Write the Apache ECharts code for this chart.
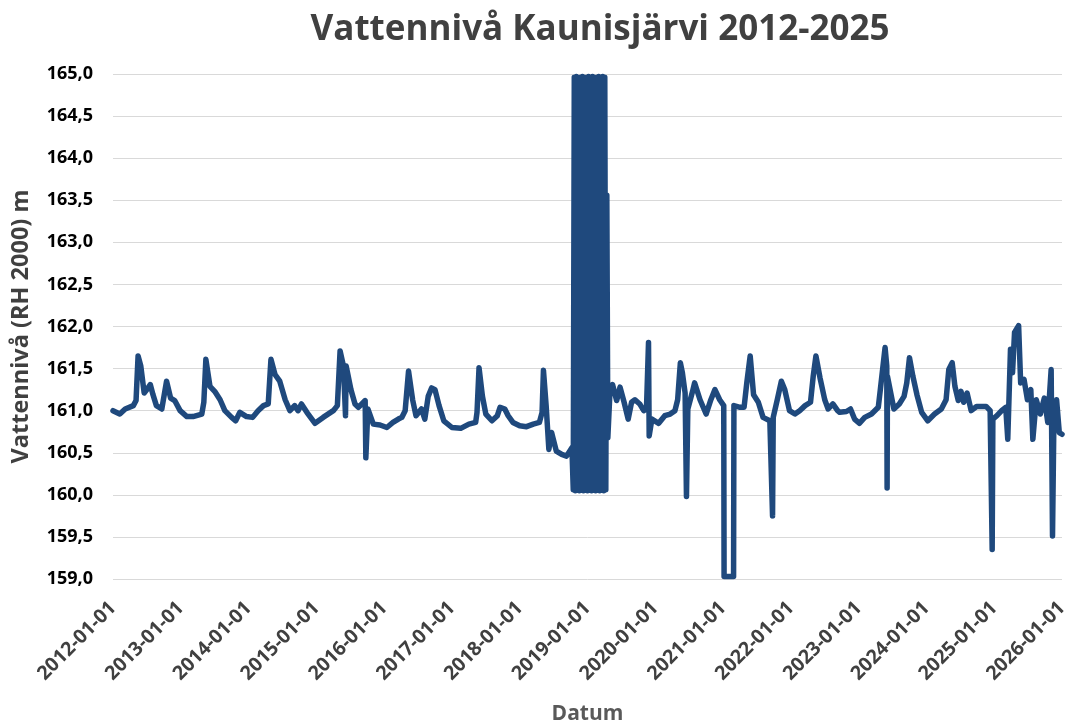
<!DOCTYPE html>
<html>
<head>
<meta charset="utf-8">
<title>Vattennivå Kaunisjärvi 2012-2025</title>
<script src="https://cdn.jsdelivr.net/npm/echarts@6/dist/echarts.min.js"></script>
<style>
  html, body { margin: 0; padding: 0; background: #fff; }
  #chart { width: 1069px; height: 721px; }
</style>
</head>
<body>
<div id="chart"></div>
<script>
// tid i decimala år, nivå i m (RH 2000)
const years = [
  2012.00, 2012.10, 2012.18, 2012.30, 2012.34, 2012.37, 2012.41, 2012.46, 2012.50, 2012.55,
  2012.59, 2012.64, 2012.72, 2012.79, 2012.85, 2012.91, 2012.99, 2013.09, 2013.18, 2013.31,
  2013.34, 2013.37, 2013.43, 2013.50, 2013.58, 2013.65, 2013.75, 2013.81, 2013.87, 2013.97,
  2014.06, 2014.14, 2014.22, 2014.29, 2014.33, 2014.39, 2014.46, 2014.54, 2014.61, 2014.68,
  2014.73, 2014.78, 2014.86, 2014.98, 2015.10, 2015.25, 2015.31, 2015.35, 2015.40, 2015.43,
  2015.44, 2015.51, 2015.57, 2015.62, 2015.67, 2015.72, 2015.73, 2015.76, 2015.84, 2015.94,
  2016.04, 2016.13, 2016.21, 2016.26, 2016.31, 2016.36, 2016.42, 2016.47, 2016.55, 2016.60,
  2016.65, 2016.70, 2016.75, 2016.81, 2016.88, 2017.00, 2017.13, 2017.25, 2017.35, 2017.37,
  2017.40, 2017.45, 2017.50, 2017.59, 2017.67, 2017.71, 2017.78, 2017.83, 2017.90, 2018.00,
  2018.10, 2018.20, 2018.29, 2018.33, 2018.35, 2018.39, 2018.43, 2018.47, 2018.54, 2018.62,
  2018.69, 2018.77,
  2018.790, 2018.805, 2018.820, 2018.835, 2018.850, 2018.865, 2018.880, 2018.895, 2018.910, 2018.925,
  2018.940, 2018.955, 2018.970, 2018.985, 2019.000, 2019.015, 2019.030, 2019.045, 2019.060, 2019.075,
  2019.090, 2019.105, 2019.120, 2019.135, 2019.150, 2019.165, 2019.180, 2019.195, 2019.210, 2019.225,
  2019.240, 2019.255, 2019.270, 2019.285, 2019.300,
  2019.33, 2019.37, 2019.43, 2019.48, 2019.54, 2019.60, 2019.65, 2019.70, 2019.77, 2019.83,
  2019.87, 2019.90, 2019.91, 2019.95, 2020.05, 2020.14, 2020.22, 2020.29, 2020.33, 2020.37,
  2020.40, 2020.44, 2020.46, 2020.48, 2020.55, 2020.58, 2020.66, 2020.75, 2020.82, 2020.88,
  2020.95, 2021.01, 2021.015, 2021.155, 2021.16, 2021.25, 2021.31, 2021.35, 2021.40, 2021.45,
  2021.52, 2021.59, 2021.69, 2021.73, 2021.74, 2021.80, 2021.86, 2021.91, 2021.98, 2022.06,
  2022.13, 2022.21, 2022.29, 2022.33, 2022.37, 2022.43, 2022.50, 2022.55, 2022.62, 2022.69,
  2022.72, 2022.82, 2022.88, 2022.94, 2023.01, 2023.09, 2023.19, 2023.29, 2023.32, 2023.39,
  2023.415, 2023.42, 2023.425, 2023.52, 2023.60, 2023.67, 2023.71, 2023.75, 2023.80, 2023.86,
  2023.93, 2024.02, 2024.12, 2024.22, 2024.29, 2024.33, 2024.38, 2024.42, 2024.47, 2024.51,
  2024.55, 2024.60, 2024.66, 2024.74, 2024.88, 2024.94, 2024.97, 2024.98, 2025.04, 2025.11,
  2025.17, 2025.20, 2025.24, 2025.27, 2025.30, 2025.36, 2025.39, 2025.44, 2025.49, 2025.54,
  2025.57, 2025.62, 2025.68, 2025.74, 2025.79, 2025.84, 2025.86, 2025.88, 2025.92, 2025.96,
  2026.00
]

const levels = [
  161.00, 160.96, 161.02, 161.06, 161.12, 161.65, 161.53, 161.21, 161.25, 161.31,
  161.19, 161.06, 161.02, 161.35, 161.15, 161.12, 161.00, 160.93, 160.93, 160.96,
  161.10, 161.61, 161.29, 161.23, 161.13, 161.00, 160.92, 160.88, 160.98, 160.93,
  160.92, 161.00, 161.06, 161.08, 161.61, 161.43, 161.35, 161.13, 161.00, 161.06,
  161.00, 161.08, 160.98, 160.85, 160.92, 161.00, 161.06, 161.71, 161.53, 160.94,
  161.53, 161.25, 161.08, 161.04, 161.08, 161.12, 160.44, 161.02, 160.84, 160.83,
  160.80, 160.86, 160.90, 160.92, 161.00, 161.47, 161.13, 160.94, 161.02, 160.90,
  161.17, 161.27, 161.25, 161.06, 160.88, 160.80, 160.79, 160.84, 160.86, 160.98,
  161.51, 161.17, 160.96, 160.88, 160.94, 161.04, 161.02, 160.94, 160.86, 160.82,
  160.81, 160.84, 160.86, 160.98, 161.48, 161.06, 160.54, 160.74, 160.52, 160.48,
  160.46, 160.56,
  160.06, 164.96, 160.05, 164.97, 160.06, 164.95, 160.05, 164.96, 160.07, 164.97,
  160.05, 164.96, 160.06, 164.95, 160.05, 164.97, 160.06, 164.96, 160.05, 164.97,
  160.06, 164.95, 160.05, 164.96, 160.07, 164.97, 160.05, 164.96, 160.06, 164.97,
  160.05, 164.96, 160.06, 163.56, 160.68,
  161.20, 161.31, 161.12, 161.28, 161.10, 160.90, 161.10, 161.13, 161.08, 161.00,
  161.02, 161.81, 160.70, 160.90, 160.85, 160.94, 160.96, 161.00, 161.13, 161.57,
  161.45, 161.21, 159.98, 161.02, 161.23, 161.33, 161.13, 160.96, 161.13, 161.25,
  161.13, 161.06, 159.03, 159.03, 161.06, 161.04, 161.04, 161.33, 161.65, 161.19,
  161.10, 160.92, 160.88, 159.75, 160.92, 161.13, 161.35, 161.25, 161.00, 160.96,
  161.00, 161.06, 161.10, 161.41, 161.65, 161.39, 161.13, 161.02, 161.08, 161.00,
  160.98, 160.99, 161.02, 160.90, 160.85, 160.92, 160.96, 161.04, 161.25, 161.75,
  161.53, 160.08, 161.41, 161.02, 161.08, 161.17, 161.33, 161.63, 161.41, 161.19,
  160.98, 160.88, 160.96, 161.02, 161.13, 161.49, 161.57, 161.29, 161.12, 161.23,
  161.10, 161.21, 161.00, 161.05, 161.05, 161.00, 159.35, 160.90, 160.94, 161.00,
  161.04, 160.66, 161.73, 161.45, 161.93, 162.01, 161.33, 161.37, 161.13, 161.25,
  160.66, 161.13, 160.96, 161.15, 160.86, 161.49, 159.51, 160.86, 161.13, 160.74,
  160.72
]

const yearTicks = [2012, 2013, 2014, 2015, 2016, 2017, 2018, 2019, 2020, 2021, 2022, 2023, 2024, 2025, 2026]

const font = "'Open Sans', 'Liberation Sans', sans-serif"
const chart = echarts.init(document.getElementById('chart'), null, { renderer: 'canvas' })

chart.setOption({
  animation: false,
  backgroundColor: '#ffffff',
  title: {
    text: 'Vattennivå Kaunisjärvi 2012-2025',
    left: 595,
    top: 8,
    textAlign: 'center',
    textStyle: { fontFamily: font, fontSize: 35, fontWeight: 'bold', color: '#404040' }
  },
  grid: { left: 113, right: 7, top: 74, bottom: 142, outerBoundsMode: 'none' },
  xAxis: {
    type: 'value',
    min: yearTicks[0],
    max: yearTicks[yearTicks.length - 1],
    interval: 1,
    name: 'Datum',
    nameLocation: 'middle',
    nameGap: 125,
    nameTextStyle: { fontFamily: font, fontSize: 21, fontWeight: 'bold', color: '#595959' },
    axisLine: { show: false },
    axisTick: { show: false },
    splitLine: { show: false },
    axisLabel: {
      rotate: 45,
      margin: 26,
      fontFamily: font,
      fontSize: 19.5,
      fontWeight: 'bold',
      color: '#404040',
      formatter: (v) => (yearTicks.includes(v) ? v + '-01-01' : '')
    }
  },
  yAxis: {
    type: 'value',
    min: 159,
    max: 165,
    interval: 0.5,
    name: 'Vattennivå (RH 2000) m',
    nameLocation: 'middle',
    nameGap: 80,
    nameTextStyle: { fontFamily: font, fontSize: 23.5, fontWeight: 'bold', color: '#404040' },
    axisLine: { show: false },
    axisTick: { show: false },
    splitLine: { lineStyle: { color: '#d9d9d9', width: 1 } },
    axisLabel: {
      margin: 20,
      fontFamily: font,
      fontSize: 18,
      fontWeight: 'bold',
      color: '#000000',
      formatter: (v) => v.toFixed(1).replace('.', ',')
    }
  },
  series: [
    {
      type: 'line',
      data: years.map((y, i) => [y, levels[i]]),
      showSymbol: false,
      sampling: null,
      lineStyle: { width: 5.5, color: '#1f497d', cap: 'round', join: 'round' }
    }
  ]
})
</script>
</body>
</html>
